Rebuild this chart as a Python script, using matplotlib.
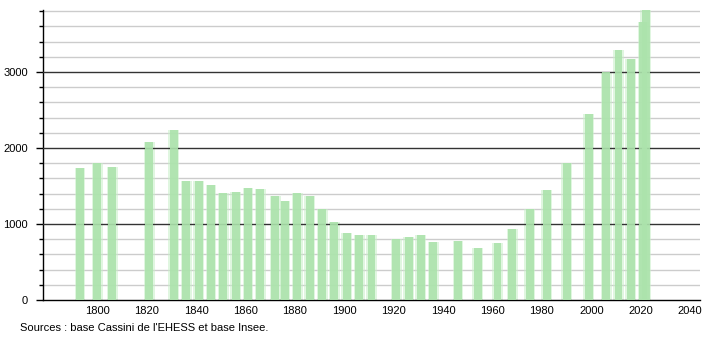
import numpy as np
import matplotlib
matplotlib.use("Agg")
import matplotlib.pyplot as plt

plt.rcParams['font.family'] = ['Liberation Sans', 'DejaVu Sans']

# census years and population
years = [1793, 1800, 1806, 1821, 1831, 1836, 1841, 1846, 1851, 1856,
         1861, 1866, 1872, 1876, 1881, 1886, 1891, 1896, 1901, 1906,
         1911, 1921, 1926, 1931, 1936, 1946, 1954, 1962, 1968, 1975,
         1982, 1990, 1999, 2006, 2011, 2016, 2021, 2022]
population = [1740, 1798, 1754, 2079, 2237, 1566, 1566, 1513, 1404, 1421,
              1478, 1461, 1368, 1303, 1408, 1364, 1193, 1026, 882, 851,
              851, 798, 829, 855, 768, 781, 689, 750, 939, 1193,
              1452, 1798, 2447, 2995, 3289, 3171, 3664, 3850]
xticks = list(range(1800, 2041, 20))
yticks = [0, 1000, 2000, 3000]

fig = plt.figure(figsize=(7.1, 3.4), dpi=100)
ax = fig.add_axes([43/710, 40/340, 657/710, 290/340])

# grid
for v in np.arange(200, 3801, 200):
    if v % 1000 == 0:
        ax.axhline(v, color='#333333', lw=1.0, zorder=3)
    else:
        ax.axhline(v, color='#cccccc', lw=1.0, zorder=1)

# bars: soft glow + core
ax.bar(years, population, width=4.4, color='#c8efc8', alpha=0.55, zorder=2)
ax.bar(years, population, width=3.2, color='#ace3ac', alpha=0.9, zorder=4)

ax.set_xlim(1778, 2044)
ax.set_ylim(0, 3816)

ax.set_xticks(xticks)
ax.set_xticklabels([str(x) for x in xticks], fontsize=8)
ax.tick_params(axis='x', length=0, pad=4)

ax.set_yticks(yticks)
ax.set_yticklabels([str(y) for y in yticks], fontsize=8)
ax.set_yticks(np.arange(200, 3801, 200), minor=True)
ax.tick_params(axis='y', which='major', length=5, width=1, pad=6)
ax.tick_params(axis='y', which='minor', length=3, width=1)

for s in ['top', 'right']:
    ax.spines[s].set_visible(False)
ax.spines['left'].set_linewidth(1)
ax.spines['bottom'].set_linewidth(1)

fig.text(20/710, 1 - 328/340, "Sources : base Cassini de l'EHESS et base Insee.",
         fontsize=8, va='center', ha='left')

fig.savefig('out.png', dpi=100)
